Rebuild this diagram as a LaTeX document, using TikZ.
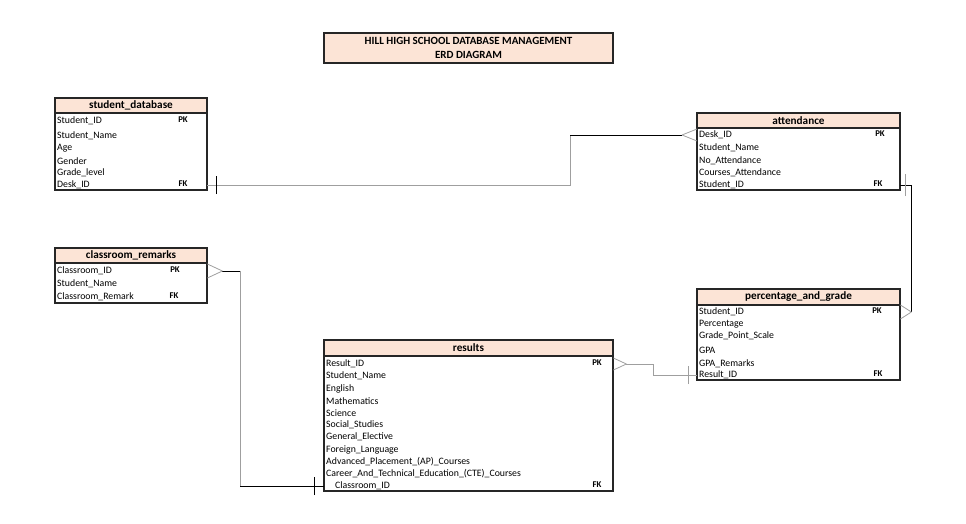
\documentclass[tikz,border=0pt]{standalone}
\usepackage{fontspec}
\setmainfont{Carlito}
\definecolor{peach}{HTML}{FCE4D6}

\begin{document}
\begin{tikzpicture}[x=1pt,y=-1pt,
  box/.style={draw=black!85,line width=1.3pt},
  hdr/.style={draw=black!85,line width=1.3pt,fill=peach},
  head/.style={font=\bfseries\fontsize{11.2}{12}\selectfont,inner sep=0pt},
  row/.style={anchor=west,inner xsep=2pt,inner ysep=0pt,yshift=-1pt,align=left,font=\fontsize{9.8}{11}\selectfont},
  key/.style={font=\bfseries\fontsize{8.8}{10}\selectfont,inner sep=0pt},
  link/.style={line width=0.8pt,black},
  faint/.style={line width=0.8pt,gray!75}]
   \useasboundingbox (0,0) rectangle (966,524);
   % title
   \draw[hdr] (324,33) rectangle (613,63);
   \node[font=\bfseries\fontsize{11}{14}\selectfont,align=center] (ttl) at (468.5,48)
     {HILL HIGH SCHOOL DATABASE MANAGEMENT\\ERD DIAGRAM};
   % student_database
   \draw[box] (55,98) rectangle (207,190);
   \draw[hdr] (55,98) rectangle (207,113);
   \node[head] (sdHead) at (131,105.5) {student\_database};
   \node[row,text width=148pt] (sdID) at (55,120) {Student\_ID};
   \node[row,text width=148pt] (sdName) at (55,135) {Student\_Name};
   \node[row,text width=148pt] (sdAge) at (55,147) {Age};
   \node[row,text width=148pt] (sdGen) at (55,160) {Gender};
   \node[row,text width=148pt] (sdGrade) at (55,172) {Grade\_level};
   \node[row,text width=148pt] (sdDesk) at (55,184) {Desk\_ID};
   \node[key] (sdPK) at (183,120) {PK};
   \node[key] (sdFK) at (183,184) {FK};
   % attendance
   \draw[box] (697,113) rectangle (900,190);
   \draw[hdr] (697,113) rectangle (900,128);
   \node[head] (atHead) at (798.5,120.5) {attendance};
   \node[row,text width=199pt] (atDesk) at (697,134) {Desk\_ID};
   \node[row,text width=199pt] (atName) at (697,147) {Student\_Name};
   \node[row,text width=199pt] (atNo) at (697,160) {No\_Attendance};
   \node[row,text width=199pt] (atCrs) at (697,172) {Courses\_Attendance};
   \node[row,text width=199pt] (atSID) at (697,184) {Student\_ID};
   \node[key] (atPK) at (880,134) {PK};
   \node[key] (atFK) at (878,184) {FK};
   % classroom_remarks
   \draw[box] (55,248) rectangle (207,303);
   \draw[hdr] (55,248) rectangle (207,263);
   \node[head] (crHead) at (131,255.5) {classroom\_remarks};
   \node[row,text width=148pt] (crCID) at (55,270) {Classroom\_ID};
   \node[row,text width=148pt] (crName) at (55,283) {Student\_Name};
   \node[row,text width=148pt] (crRem) at (55,296) {Classroom\_Remark};
   \node[key] (crPK) at (175,270) {PK};
   \node[key] (crFK) at (174,296) {FK};
   % percentage_and_grade
   \draw[box] (697,289) rectangle (900,380);
   \draw[hdr] (697,289) rectangle (900,305);
   \node[head] (pgHead) at (798.5,297) {percentage\_and\_grade};
   \node[row,text width=199pt] (pgSID) at (697,311) {Student\_ID};
   \node[row,text width=199pt] (pgPct) at (697,323) {Percentage};
   \node[row,text width=199pt] (pgScale) at (697,335) {Grade\_Point\_Scale};
   \node[row,text width=199pt] (pgGPA) at (697,349) {GPA};
   \node[row,text width=199pt] (pgRem) at (697,363) {GPA\_Remarks};
   \node[row,text width=199pt] (pgRID) at (697,374) {Result\_ID};
   \node[key] (pgPK) at (877,311) {PK};
   \node[key] (pgFK) at (878,374) {FK};
   % results
   \draw[box] (324,340) rectangle (613,491);
   \draw[hdr] (324,340) rectangle (613,356);
   \node[head] (rsHead) at (468.5,348) {results};
   \node[row,text width=285pt] (rsRID) at (324,363) {Result\_ID};
   \node[row,text width=285pt] (rsName) at (324,375) {Student\_Name};
   \node[row,text width=285pt] (rsEng) at (324,388) {English};
   \node[row,text width=285pt] (rsMath) at (324,400) {Mathematics};
   \node[row,text width=285pt] (rsSci) at (324,412) {Science};
   \node[row,text width=285pt] (rsSoc) at (324,424) {Social\_Studies};
   \node[row,text width=285pt] (rsGen) at (324,436) {General\_Elective};
   \node[row,text width=285pt] (rsFor) at (324,449) {Foreign\_Language};
   \node[row,text width=285pt] (rsAP) at (324,461) {Advanced\_Placement\_(AP)\_Courses};
   \node[row,text width=285pt] (rsCTE) at (324,473) {Career\_And\_Technical\_Education\_(CTE)\_Courses};
   \node[row,text width=285pt] (rsCID) at (324,485) {\hspace*{9pt}Classroom\_ID};
   \node[key] (rsPK) at (597,363) {PK};
   \node[key] (rsFK) at (597,485) {FK};
   % student_database -- attendance
   \coordinate (sdBend) at ([xshift=-127pt]atDesk.west);
   \draw[faint] (sdDesk.east) -| (sdBend);
   \draw[link] (sdBend) -- ([xshift=-15pt]atDesk.west);
   \draw[link] ([xshift=9pt,yshift=-9pt]sdDesk.east) -- ([xshift=9pt,yshift=9pt]sdDesk.east);
   \draw[faint] ([xshift=-15pt]atDesk.west) -- ([yshift=6pt]atDesk.west)
                ([xshift=-15pt]atDesk.west) -- ([yshift=-6pt]atDesk.west);
   % attendance -- percentage_and_grade
   \draw[link] (atSID.east) -| ([xshift=11pt]pgSID.east);
   \draw[faint] ([xshift=5pt,yshift=-11pt]atSID.east) -- ([xshift=5pt,yshift=11pt]atSID.east);
   \draw[faint] ([xshift=11pt]pgSID.east) -- ([yshift=7pt]pgSID.east)
                ([xshift=11pt]pgSID.east) -- ([yshift=-7pt]pgSID.east);
   % classroom_remarks -- results
   \coordinate (crBend) at ([xshift=33pt]crCID.east |- rsCID.west);
   \draw[link] ([xshift=15pt]crCID.east) -- ([xshift=33pt]crCID.east);
   \draw[faint] ([xshift=33pt]crCID.east) -- (crBend);
   \draw[link] (crBend) -- (rsCID.west);
   \draw[faint] ([xshift=15pt]crCID.east) -- ([yshift=7pt]crCID.east)
                ([xshift=15pt]crCID.east) -- ([yshift=-7pt]crCID.east);
   \draw[link] ([xshift=-10pt,yshift=-9pt]rsCID.west) -- ([xshift=-10pt,yshift=9pt]rsCID.west);
   % results -- percentage_and_grade
   \draw[faint] ([xshift=13pt]rsRID.east) -- ++(27,0) |- (pgRID.west);
   \draw[faint] ([xshift=13pt]rsRID.east) -- ([yshift=6pt]rsRID.east)
                ([xshift=13pt]rsRID.east) -- ([yshift=-6pt]rsRID.east);
   \draw[faint] ([xshift=-9pt,yshift=-9pt]pgRID.west) -- ([xshift=-9pt,yshift=9pt]pgRID.west);
  \end{tikzpicture}
\end{document}
